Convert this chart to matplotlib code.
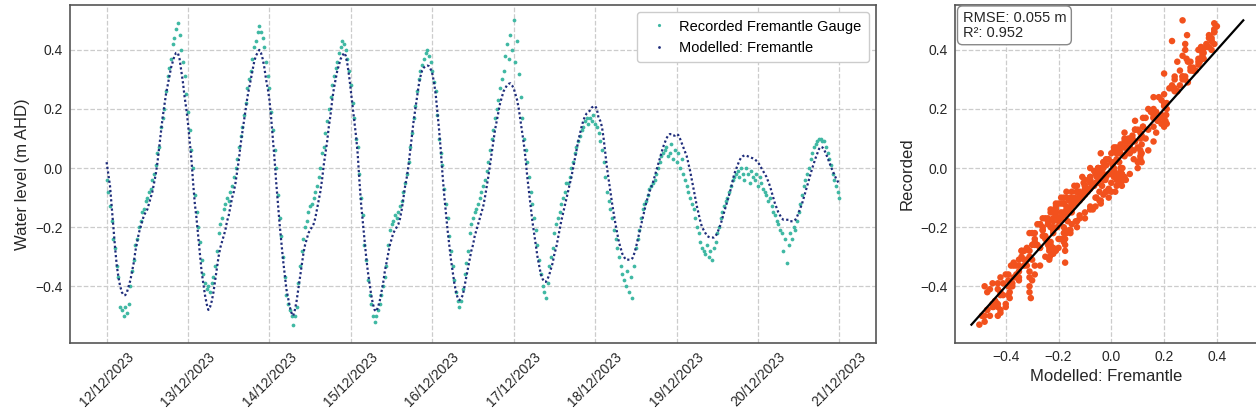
import numpy as np
import matplotlib
matplotlib.use("Agg")
import matplotlib.pyplot as plt
import matplotlib.dates as mdates
from matplotlib.lines import Line2D

plt.rcParams['font.family'] = ['Liberation Sans', 'DejaVu Sans']

# ---------------- data (30-minute steps from 12/12/2023 00:00) ----------------
start_time = '2023-12-12T00:00'
step_minutes = 30

modelled = [
    0.02, -0.02, -0.06, -0.13, -0.20, -0.27, -0.33, -0.37, -0.40, -0.42, -0.43, -0.43,
    -0.42, -0.40, -0.38, -0.35, -0.32, -0.28, -0.25, -0.22, -0.20, -0.18, -0.16, -0.15,
    -0.14, -0.12, -0.10, -0.08, -0.05, -0.02, 0.02, 0.07, 0.12, 0.17, 0.21, 0.25,
    0.28, 0.31, 0.34, 0.36, 0.38, 0.39, 0.39, 0.37, 0.33, 0.29, 0.24, 0.20,
    0.15, 0.09, 0.03, -0.05, -0.12, -0.17, -0.23, -0.29, -0.35, -0.39, -0.43, -0.46,
    -0.48, -0.47, -0.45, -0.42, -0.38, -0.34, -0.30, -0.27, -0.25, -0.23, -0.21, -0.18,
    -0.16, -0.13, -0.10, -0.08, -0.05, -0.01, 0.03, 0.08, 0.12, 0.16, 0.20, 0.24,
    0.27, 0.30, 0.33, 0.36, 0.38, 0.39, 0.40, 0.39, 0.37, 0.34, 0.30, 0.27,
    0.23, 0.17, 0.10, 0.03, -0.05, -0.12, -0.19, -0.25, -0.31, -0.36, -0.41, -0.44,
    -0.47, -0.49, -0.50, -0.48, -0.45, -0.41, -0.37, -0.33, -0.29, -0.26, -0.24, -0.22,
    -0.21, -0.20, -0.19, -0.17, -0.14, -0.11, -0.08, -0.04, 0.01, 0.05, 0.09, 0.14,
    0.18, 0.23, 0.27, 0.30, 0.33, 0.35, 0.37, 0.38, 0.39, 0.38, 0.35, 0.31,
    0.26, 0.21, 0.16, 0.11, 0.05, -0.04, -0.12, -0.18, -0.24, -0.30, -0.35, -0.39,
    -0.43, -0.46, -0.48, -0.485, -0.47, -0.45, -0.42, -0.39, -0.35, -0.32, -0.29, -0.26,
    -0.24, -0.22, -0.21, -0.20, -0.19, -0.17, -0.14, -0.10, -0.06, -0.03, 0.01, 0.06,
    0.11, 0.16, 0.20, 0.24, 0.28, 0.31, 0.33, 0.34, 0.345, 0.347, 0.345, 0.335,
    0.32, 0.29, 0.25, 0.19, 0.13, 0.06, -0.02, -0.09, -0.15, -0.21, -0.26, -0.31,
    -0.35, -0.39, -0.42, -0.44, -0.447, -0.44, -0.43, -0.40, -0.37, -0.34, -0.31, -0.28,
    -0.26, -0.23, -0.21, -0.19, -0.17, -0.15, -0.13, -0.10, -0.065, -0.03, 0.01, 0.05,
    0.09, 0.13, 0.16, 0.19, 0.22, 0.24, 0.26, 0.27, 0.28, 0.285, 0.287, 0.28,
    0.27, 0.25, 0.23, 0.20, 0.16, 0.12, 0.08, 0.03, -0.03, -0.08, -0.13, -0.18,
    -0.22, -0.26, -0.30, -0.33, -0.36, -0.375, -0.385, -0.385, -0.375, -0.36, -0.34, -0.32,
    -0.29, -0.27, -0.24, -0.21, -0.18, -0.155, -0.13, -0.105, -0.08, -0.055, -0.03, 0.00,
    0.03, 0.06, 0.09, 0.115, 0.14, 0.16, 0.175, 0.185, 0.19, 0.195, 0.205, 0.208,
    0.21, 0.20, 0.17, 0.16, 0.14, 0.10, 0.05, 0.00, -0.04, -0.08, -0.12, -0.155,
    -0.19, -0.22, -0.25, -0.27, -0.29, -0.30, -0.31, -0.31, -0.31, -0.31, -0.305, -0.29,
    -0.27, -0.245, -0.22, -0.195, -0.17, -0.145, -0.12, -0.10, -0.08, -0.065, -0.05, -0.03,
    -0.01, 0.01, 0.03, 0.05, 0.07, 0.085, 0.10, 0.11, 0.115, 0.115, 0.11, 0.11,
    0.115, 0.112, 0.10, 0.085, 0.07, 0.055, 0.04, 0.015, -0.01, -0.04, -0.07, -0.10,
    -0.13, -0.155, -0.18, -0.20, -0.21, -0.22, -0.23, -0.233, -0.235, -0.235, -0.235, -0.23,
    -0.22, -0.205, -0.19, -0.17, -0.15, -0.13, -0.11, -0.09, -0.07, -0.045, -0.02, -0.005,
    0.01, 0.025, 0.035, 0.04, 0.043, 0.042, 0.04, 0.037, 0.035, 0.033, 0.03, 0.025,
    0.02, 0.01, 0.00, -0.01, -0.02, -0.03, -0.045, -0.06, -0.08, -0.10, -0.12, -0.135,
    -0.15, -0.16, -0.17, -0.175, -0.175, -0.175, -0.175, -0.18, -0.18, -0.18, -0.175, -0.165,
    -0.15, -0.135, -0.12, -0.10, -0.08, -0.06, -0.04, -0.02, 0.00, 0.018, 0.035, 0.05,
    0.065, 0.072, 0.07, 0.062, 0.05, 0.035, 0.02, 0.005, -0.01, -0.022, -0.035, -0.045,
    -0.056,
]

recorded = [
    -0.04, -0.08, -0.13, -0.18, -0.24, -0.27, -0.33, -0.37, -0.47, -0.48, -0.50, -0.47,
    -0.49, -0.46, -0.40, -0.35, -0.31, -0.26, -0.24, -0.20, -0.18, -0.15, -0.14, -0.11,
    -0.10, -0.08, -0.07, -0.04, -0.02, 0.01, 0.05, 0.07, 0.14, 0.17, 0.20, 0.26,
    0.31, 0.34, 0.37, 0.42, 0.44, 0.47, 0.49, 0.45, 0.40, 0.36, 0.31, 0.25,
    0.19, 0.13, 0.06, 0.00, -0.09, -0.15, -0.20, -0.25, -0.31, -0.36, -0.39, -0.41,
    -0.40, -0.42, -0.39, -0.37, -0.33, -0.28, -0.22, -0.19, -0.17, -0.14, -0.12, -0.10,
    -0.11, -0.08, -0.06, -0.03, 0.00, 0.03, 0.07, 0.11, 0.14, 0.18, 0.22, 0.27,
    0.30, 0.33, 0.37, 0.41, 0.43, 0.46, 0.48, 0.46, 0.44, 0.41, 0.36, 0.31,
    0.27, 0.19, 0.13, 0.06, 0.00, -0.09, -0.17, -0.23, -0.30, -0.37, -0.43, -0.46,
    -0.48, -0.50, -0.53, -0.50, -0.47, -0.39, -0.33, -0.28, -0.24, -0.20, -0.18, -0.15,
    -0.13, -0.12, -0.10, -0.08, -0.06, -0.03, 0.00, 0.05, 0.07, 0.12, 0.16, 0.20,
    0.24, 0.28, 0.31, 0.34, 0.36, 0.39, 0.41, 0.43, 0.42, 0.40, 0.37, 0.33,
    0.28, 0.22, 0.17, 0.10, 0.07, -0.02, -0.10, -0.16, -0.26, -0.31, -0.38, -0.43,
    -0.46, -0.50, -0.52, -0.50, -0.48, -0.46, -0.43, -0.40, -0.37, -0.33, -0.26, -0.21,
    -0.19, -0.18, -0.16, -0.17, -0.15, -0.13, -0.11, -0.08, -0.05, -0.02, 0.02, 0.07,
    0.12, 0.17, 0.21, 0.26, 0.30, 0.33, 0.35, 0.37, 0.39, 0.40, 0.38, 0.36,
    0.33, 0.29, 0.26, 0.18, 0.10, 0.05, 0.01, -0.07, -0.12, -0.17, -0.23, -0.28,
    -0.33, -0.38, -0.42, -0.45, -0.47, -0.45, -0.41, -0.36, -0.32, -0.28, -0.22, -0.19,
    -0.17, -0.15, -0.14, -0.12, -0.10, -0.08, -0.06, -0.04, -0.01, 0.02, 0.06, 0.10,
    0.13, 0.17, 0.20, 0.23, 0.27, 0.30, 0.33, 0.38, 0.42, 0.37, 0.45, 0.40,
    0.50, 0.36, 0.43, 0.32, 0.24, 0.17, 0.10, 0.06, 0.02, -0.03, -0.08, -0.12,
    -0.17, -0.21, -0.26, -0.31, -0.36, -0.40, -0.42, -0.44, -0.39, -0.33, -0.30, -0.27,
    -0.22, -0.19, -0.17, -0.15, -0.12, -0.10, -0.08, -0.05, -0.05, -0.03, 0.00, 0.02,
    0.05, 0.07, 0.09, 0.11, 0.13, 0.14, 0.16, 0.17, 0.15, 0.17, 0.16, 0.18,
    0.15, 0.14, 0.12, 0.09, 0.06, 0.02, -0.03, -0.08, -0.11, -0.14, -0.17, -0.21,
    -0.24, -0.27, -0.30, -0.33, -0.36, -0.38, -0.40, -0.35, -0.42, -0.37, -0.44, -0.33,
    -0.27, -0.24, -0.21, -0.17, -0.14, -0.12, -0.11, -0.09, -0.07, -0.06, -0.05, -0.04,
    -0.02, 0.00, 0.02, 0.04, 0.05, 0.06, 0.07, 0.04, 0.05, 0.08, 0.03, 0.06,
    0.02, 0.05, 0.00, 0.03, -0.02, -0.04, -0.06, -0.08, -0.10, -0.12, -0.14, -0.17,
    -0.20, -0.22, -0.25, -0.27, -0.28, -0.29, -0.26, -0.30, -0.28, -0.31, -0.27, -0.25,
    -0.22, -0.20, -0.17, -0.15, -0.13, -0.11, -0.10, -0.08, -0.06, -0.04, -0.03, -0.02,
    -0.01, -0.03, 0.00, -0.02, -0.04, 0.00, -0.02, -0.05, -0.01, -0.03, -0.04, -0.02,
    -0.06, -0.03, -0.05, -0.07, -0.08, -0.09, -0.11, -0.10, -0.13, -0.15, -0.16, -0.18,
    -0.19, -0.21, -0.22, -0.28, -0.24, -0.32, -0.26, -0.22, -0.24, -0.20, -0.21, -0.18,
    -0.15, -0.12, -0.09, -0.06, -0.04, -0.02, 0.00, 0.03, 0.05, 0.07, 0.08, 0.09,
    0.10, 0.10, 0.09, 0.09, 0.07, 0.05, 0.03, 0.01, -0.02, -0.04, -0.06, -0.08,
    -0.10,
]

series_labels = ['Recorded Fremantle Gauge', 'Modelled: Fremantle']
stats_text = 'RMSE: 0.055 m\nR\u00b2: 0.952'

# ---------------- styling ----------------
teal = '#3fb8a3'
navy = '#1f2d7b'
orange = '#f2511d'
spine_col = '#555555'
grid_col = '#cccccc'

times = np.datetime64(start_time) + np.arange(len(modelled)) * np.timedelta64(step_minutes, 'm')
mod = np.array(modelled)
rec = np.array(recorded)

fig = plt.figure(figsize=(12.56, 4.19), dpi=100)
ax = fig.add_axes([0.0557, 0.1814, 0.6418, 0.8067])
ax2 = fig.add_axes([0.7604, 0.1814, 0.2404, 0.8067])

for a in (ax, ax2):
    a.set_facecolor('white')
    a.grid(True, linestyle='--', color=grid_col, linewidth=0.9)
    a.set_axisbelow(True)
    for s in a.spines.values():
        s.set_color(spine_col)
        s.set_linewidth(1.2)
    a.tick_params(length=0, labelsize=10, colors='#262626', pad=5)

# time series
ax.plot(times, rec, linestyle='none', marker='o', markersize=2.7, markeredgewidth=0,
        color=teal)
ax.plot(times, mod, linestyle=(0, (1.0, 1.1)), linewidth=1.6, color=navy)
ax.set_ylim(-0.592, 0.552)
ax.set_yticks([-0.4, -0.2, 0.0, 0.2, 0.4])
ax.xaxis.set_major_locator(mdates.DayLocator())
ax.xaxis.set_major_formatter(mdates.DateFormatter('%d/%m/%Y'))
for lbl in ax.get_xticklabels():
    lbl.set_rotation(45)
    lbl.set_ha('center')
ax.set_ylabel('Water level (m AHD)', fontsize=12, color='#262626')

handles = [Line2D([], [], linestyle='none', marker='o', markersize=2.3, markeredgewidth=0, color=teal),
           Line2D([], [], linestyle='none', marker='o', markersize=2.0, markeredgewidth=0, color=navy)]
leg = ax.legend(handles, series_labels, loc='upper right', fontsize=10.5, frameon=True,
                fancybox=True, framealpha=1, edgecolor='#cccccc', borderpad=0.5,
                handletextpad=0.4, handlelength=2.0)

# scatter
ax2.scatter(mod, rec, s=22, color=orange, edgecolors='none', zorder=2)
lo = min(mod.min(), rec.min())
hi = max(mod.max(), rec.max())
ax2.plot([lo, hi], [lo, hi], color='black', linewidth=1.6, zorder=3)
ax2.set_xlim(-0.592, 0.552)
ax2.set_ylim(-0.592, 0.552)
ax2.set_xticks([-0.4, -0.2, 0.0, 0.2, 0.4])
ax2.set_yticks([-0.4, -0.2, 0.0, 0.2, 0.4])
ax2.set_xlabel('Modelled: Fremantle', fontsize=12, color='#262626')
ax2.set_ylabel('Recorded', fontsize=12, color='#262626')
ax2.text(0.025, 0.982, stats_text, transform=ax2.transAxes, ha='left', va='top',
         fontsize=10.5, color='#262626', zorder=5, linespacing=1.05,
         bbox=dict(boxstyle='round,pad=0.35', facecolor='white', edgecolor='#888888'))

fig.savefig('out.png', dpi=100, facecolor='white')
